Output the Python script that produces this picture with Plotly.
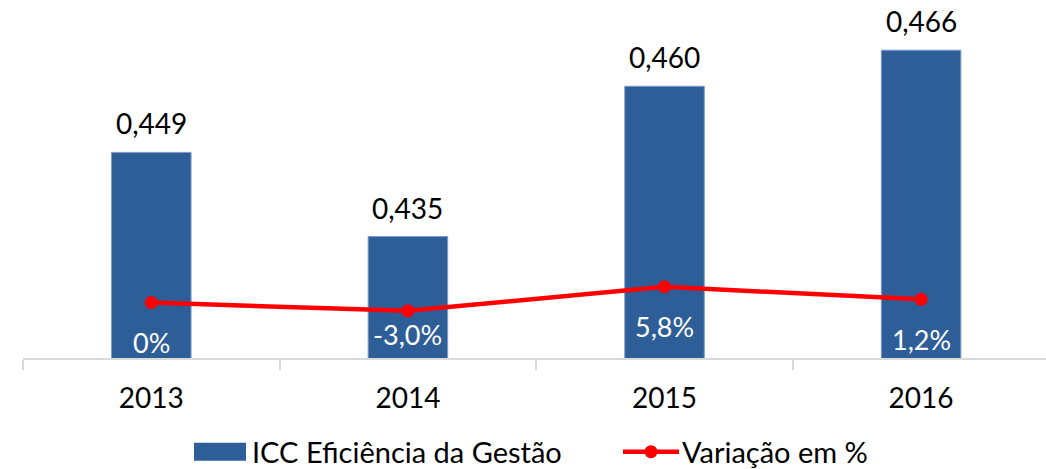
import plotly.graph_objects as go

# ---- data ----
years = ["2013", "2014", "2015", "2016"]
icc_values = [0.449, 0.435, 0.460, 0.466]
variation_pct = [0.0, -3.0, 5.8, 1.2]

# ---- style / layout params ----
BAR_COLOR = "#2E5E98"
LINE_COLOR = "#FF0000"
FONT = "Lato"
PCT_LABEL_SHIFT = [-40, -23.5, -40, -40]

W, H = 1046, 469
ML, MR, MT, MB = 23, 0, 10, 111
PW, PH = W - ML - MR, H - MT - MB


def fmt_val(v):
    return f"{v:.3f}".replace(".", ",")


def fmt_pct(v):
    if v == 0:
        return "0%"
    return f"{v:.1f}%".replace(".", ",")


def px_to_paper_x(px):
    return (px - ML) / PW


def px_to_paper_y(py):
    return (H - MB - py) / PH


fig = go.Figure()
fig.add_trace(go.Bar(
    x=years, y=icc_values, name="ICC Eficiência da Gestão",
    marker=dict(color=BAR_COLOR, line=dict(color="#7D9CCB", width=1)),
    width=0.31, showlegend=False, hoverinfo="x+y",
))
fig.add_trace(go.Scatter(
    x=years, y=variation_pct, name="Variação em %", yaxis="y2",
    mode="lines+markers",
    line=dict(color=LINE_COLOR, width=4.5),
    marker=dict(color=LINE_COLOR, size=13),
    showlegend=False,
))

annotations = []
for i, v in enumerate(icc_values):
    annotations.append(dict(
        x=i, y=v, xref="x", yref="y", text=fmt_val(v), showarrow=False,
        yanchor="middle", yshift=29, font=dict(family=FONT, size=28, color="#000000"),
    ))
for i, (v, sh) in enumerate(zip(variation_pct, PCT_LABEL_SHIFT)):
    annotations.append(dict(
        x=i, y=v, xref="x", yref="y2", text=fmt_pct(v), showarrow=False,
        yanchor="middle", yshift=sh, font=dict(family=FONT, size=27, color="#FFFFFF"),
    ))

# manual legend
leg_y = px_to_paper_y(451.7)
annotations.append(dict(
    x=px_to_paper_x(250), y=leg_y, xref="paper", yref="paper", xanchor="left", yanchor="middle",
    text="ICC Eficiência da Gestão", showarrow=False,
    font=dict(family=FONT, size=29, color="#000000"),
))
annotations.append(dict(
    x=px_to_paper_x(680), y=leg_y, xref="paper", yref="paper", xanchor="left", yanchor="middle",
    text="Variação em %", showarrow=False,
    font=dict(family=FONT, size=29, color="#000000"),
))
shapes = [
    dict(type="rect", xref="paper", yref="paper",
         x0=px_to_paper_x(194), x1=px_to_paper_x(246),
         y0=px_to_paper_y(460.7), y1=px_to_paper_y(442.7),
         fillcolor=BAR_COLOR, line=dict(width=0)),
    dict(type="line", xref="paper", yref="paper",
         x0=px_to_paper_x(623), x1=px_to_paper_x(679), y0=leg_y, y1=leg_y,
         line=dict(color=LINE_COLOR, width=4.5)),
    dict(type="circle", xref="paper", yref="paper",
         xsizemode="pixel", ysizemode="pixel",
         xanchor=px_to_paper_x(651), yanchor=leg_y,
         x0=-6.5, x1=6.5, y0=-6.5, y1=6.5,
         fillcolor=LINE_COLOR, line=dict(width=0)),
]

y_min = 0.4148
y_k = 6012.0
y_max = y_min + PH / y_k
y2_k = 2.731
y2_min = -(H - MB - 302.6) / y2_k
y2_max = y2_min + PH / y2_k
cat_px = 256.6

fig.update_layout(
    width=W, height=H,
    margin=dict(l=ML, r=MR, t=MT, b=MB, pad=0),
    paper_bgcolor="white", plot_bgcolor="white",
    font=dict(family=FONT, size=27, color="#000000"),
    xaxis=dict(
        type="category", range=[-0.5, -0.5 + PW / cat_px],
        showline=True, linecolor="#D9D9D9", linewidth=1.5,
        ticks="outside", tickson="boundaries", ticklen=10, tickcolor="#D9D9D9", tickwidth=1.5,
        tickfont=dict(family=FONT, size=28, color="#000000"),
        ticklabelstandoff=15,
        showgrid=False, zeroline=False,
    ),
    yaxis=dict(range=[y_min, y_max], visible=False, showgrid=False, zeroline=False),
    yaxis2=dict(range=[y2_min, y2_max], overlaying="y", side="right", visible=False,
                showgrid=False, zeroline=False),
    annotations=annotations,
    shapes=shapes,
    showlegend=False,
    bargap=0.69,
)

fig.write_html(
    "out.html",
    config={"displayModeBar": False},
    post_script="document.body.style.margin='0';document.body.style.overflow='hidden';",
)
